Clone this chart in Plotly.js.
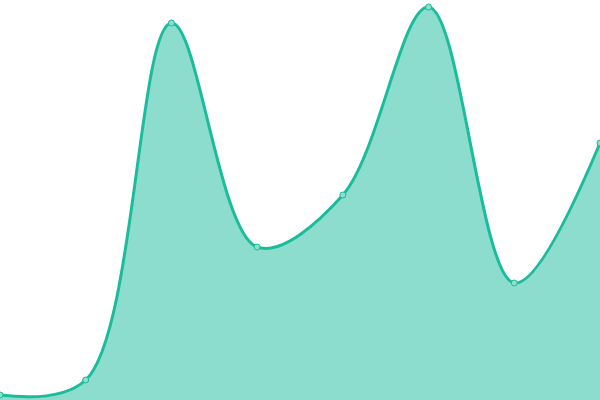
<!DOCTYPE html>
<html>
<head>
<meta charset="utf-8">
<script src="https://cdn.plot.ly/plotly-3.0.1.min.js"></script>
<style>
  html, body { margin: 0; padding: 0; background: #fff; }
  #chart { width: 600px; height: 400px; }
</style>
</head>
<body>
<div id="chart"></div>
<script>
// point index along x
var xIndex = [0, 1, 2, 3, 4, 5, 6, 7];
var values = [5, 20, 377, 153, 205, 393, 117, 257];

var trace = {
    x: xIndex,
    y: values,
    type: 'scatter',
    mode: 'lines+markers',
    fill: 'tozeroy',
    fillcolor: 'rgba(26,188,156,0.5)',
    line: {color: '#1abc9c', width: 3, shape: 'spline', smoothing: 1},
    marker: {
        size: 6,
        color: '#8be0d0',
        line: {color: '#1abc9c', width: 1}
    },
    cliponaxis: false,
    hoverinfo: 'none'
};

var layout = {
    width: 600,
    height: 400,
    margin: {l: 0, r: 0, t: 0, b: 0},
    paper_bgcolor: '#fff',
    plot_bgcolor: '#fff',
    showlegend: false,
    xaxis: {range: [0, 7], visible: false, fixedrange: true},
    yaxis: {range: [0, 400], visible: false, fixedrange: true}
};

Plotly.newPlot('chart', [trace], layout, {displayModeBar: false, staticPlot: true});
</script>
</body>
</html>
